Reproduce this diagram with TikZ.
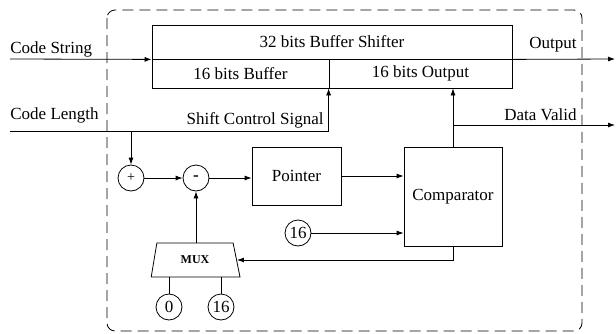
\documentclass[tikz,border=0pt]{standalone}
\usepackage{fontspec}
\setmainfont{Liberation Serif}
\usetikzlibrary{arrows.meta,shapes.geometric}
\begin{document}
\begin{tikzpicture}[x=1pt,y=-1pt,
  line width=0.8pt,
  txt/.style={font=\fontsize{17}{20}\selectfont, inner sep=0pt},
  blk/.style={draw, rectangle, inner sep=0pt, font=\fontsize{17}{20}\selectfont},
  circ/.style={draw, circle, minimum size=26pt, inner sep=0pt, font=\fontsize{17}{20}\selectfont},
  arr/.style={-{Latex[length=7pt,width=5pt]}},
  frame/.style={dashed, dash pattern=on 11pt off 6pt, rounded corners=8pt}
]
\useasboundingbox (0,0) rectangle (616,333);
% frame
\draw[frame] (107,10) rectangle (582,331);
% buffer shifter
\node[blk, minimum width=360pt, minimum height=34pt] (bufTop) at (332,42) {32 bits Buffer Shifter};
\node[blk, minimum width=177pt, minimum height=29pt] (bufL) at (240.5,73.5) {16 bits Buffer};
\node[blk, minimum width=183pt, minimum height=29pt] (bufR) at (420.5,73.5) {16 bits Output};
% blocks
\node[blk, minimum width=89pt, minimum height=58pt] (ptr) at (296.5,176) {Pointer};
\node[blk, minimum width=98pt, minimum height=99pt] (comp) at (453,196.5) {Comparator};
\node[draw, trapezium, trapezium left angle=75, trapezium right angle=72, trapezium stretches=true,
  minimum width=89pt, minimum height=34pt, inner sep=0pt,
  font=\bfseries\fontsize{12}{14}\selectfont] (mux) at (195,260) {MUX};
% circles
\node[circ, font=\fontsize{14}{16}\selectfont] (plus) at (131,178) {+};
\node[circ] (minus) at (196,178) {\textbf{-}};
\node[circ] (c16) at (298,233) {16};
\node[circ] (c0) at (169,307) {0};
\node[circ] (c16b) at (221,307) {16};
% coordinates
\coordinate (cs) at (10,59);
\coordinate (out) at (615,59);
\coordinate (cl) at (10,131);
\coordinate (dv) at (615,125);
% labels
\node[txt, anchor=base west] (lcs) at (10,53) {Code String};
\node[txt, anchor=base west] (lcl) at (10,119) {Code Length};
\node[txt, anchor=base east] (lsc) at (324,124) {Shift Control Signal};
\node[txt, anchor=base east] (lout) at (577,48) {Output};
\node[txt, anchor=base east] (ldv) at (577,120) {Data Valid};
% connectors
\draw[arr] (cs) -- (bufTop.south west);
\draw[arr] (bufTop.south east) -- (out);
\draw[arr] (cl) -| (bufR.south west);
\draw[arr] (plus |- cl) -- (plus.north);
\draw[arr] (plus) -- (minus);
\draw[arr] (minus) -- (ptr.west |- minus);
\draw[arr] (ptr.east) -- (ptr.east -| comp.west);
\draw[arr] (c16) -- (c16 -| comp.west);
\draw[arr] (comp.north) -- (comp.north |- bufR.south);
\draw[arr] (comp.north |- dv) -- (dv);
\draw[arr] (comp.south) |- (mux.east);
\draw[arr] (mux.north -| minus) -- (minus.south);
\draw (c0.north) -- (c0.north |- mux.south);
\draw (c16b.north) -- (c16b.north |- mux.south);
\end{tikzpicture}
\end{document}
